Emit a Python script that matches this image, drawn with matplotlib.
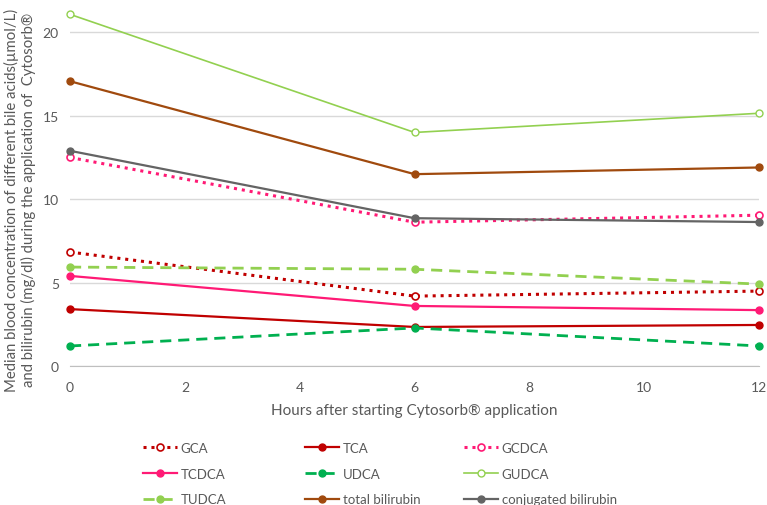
import matplotlib
matplotlib.use("Agg")
import matplotlib.pyplot as plt

hours = [0, 6, 12]
GCA = [6.83, 4.19, 4.49]
TCA = [3.41, 2.34, 2.46]
GCDCA = [12.5, 8.62, 9.04]
TCDCA = [5.4, 3.6, 3.35]
UDCA = [1.2, 2.28, 1.2]
GUDCA = [21.08, 14.0, 15.15]
TUDCA = [5.93, 5.8, 4.91]
total_bilirubin = [17.07, 11.5, 11.9]
conjugated_bilirubin = [12.9, 8.86, 8.63]

plt.rcParams['font.family'] = ['Lato', 'DejaVu Sans']

fig = plt.figure(figsize=(7.67, 5.06), dpi=100)
ax = fig.add_axes([0.0913, 0.2747, 0.8983, 0.7253])

red = '#C00000'
pink = '#FF1A75'
green = '#00B050'
lgreen = '#92D050'
brown = '#A04A0E'
gray = '#646464'

series = {}
series['GCA'] = ax.plot(hours, GCA, color=red, ls=(0, (1, 1.6)), lw=2.2, marker='o', ms=5,
                        mfc='white', mec=red, mew=1.2, label='GCA')[0]
series['TCA'] = ax.plot(hours, TCA, color=red, ls='-', lw=1.6, marker='o', ms=5, label='TCA')[0]
series['GCDCA'] = ax.plot(hours, GCDCA, color=pink, ls=(0, (1, 1.6)), lw=2.2, marker='o', ms=5,
                          mfc='white', mec=pink, mew=1.2, label='GCDCA')[0]
series['TCDCA'] = ax.plot(hours, TCDCA, color=pink, ls='-', lw=1.6, marker='o', ms=5, label='TCDCA')[0]
series['UDCA'] = ax.plot(hours, UDCA, color=green, ls=(0, (4, 2.5)), lw=2.0, marker='o', ms=5, label='UDCA')[0]
series['GUDCA'] = ax.plot(hours, GUDCA, color=lgreen, ls='-', lw=1.2, marker='o', ms=5,
                          mfc='white', mec=lgreen, mew=1.0, label='GUDCA')[0]
series['TUDCA'] = ax.plot(hours, TUDCA, color=lgreen, ls=(0, (4, 2.5)), lw=2.0, marker='o', ms=5, label='TUDCA')[0]
series['total'] = ax.plot(hours, total_bilirubin, color=brown, ls='-', lw=1.6, marker='o', ms=5,
                          label='total bilirubin')[0]
series['conj'] = ax.plot(hours, conjugated_bilirubin, color=gray, ls='-', lw=1.6, marker='o', ms=5,
                         label='conjugated bilirubin')[0]

for l in series.values():
    l.set_clip_on(False)

ax.set_xlim(0, 12)
ax.set_ylim(0, 22)
ax.set_xticks([0, 2, 4, 6, 8, 10, 12])
ax.set_yticks([0, 5, 10, 15, 20])
ax.grid(axis='y', color='#D9D9D9', lw=1)
ax.set_axisbelow(True)
for s in ['left', 'right', 'top']:
    ax.spines[s].set_visible(False)
ax.spines['bottom'].set_color('#BFBFBF')
ax.tick_params(axis='both', length=0, labelsize=10, colors='#595959')
ax.tick_params(axis='x', pad=11)
ax.tick_params(axis='y', pad=8)

ax.set_xlabel('Hours after starting Cytosorb® application', fontsize=11, color='#595959', labelpad=7)
ax.set_ylabel('Median blood concentration of different bile acids(µmol/L)\n'
              'and bilirubin (mg/dl) during the application of  Cytosorb®',
              fontsize=10.7, color='#595959', linespacing=1.1)
ax.yaxis.set_label_coords(-0.05, 0.455)

columns = [['GCA', 'TCDCA', 'TUDCA'], ['TCA', 'UDCA', 'total'], ['GCDCA', 'GUDCA', 'conj']]
col_x = [143, 305, 464]
for keys, xpx in zip(columns, col_x):
    hs = [series[k] for k in keys]
    leg = fig.legend(hs, [h.get_label() for h in hs], loc='upper left',
                     bbox_to_anchor=(xpx / 767, 0.125), frameon=False, fontsize=9.5,
                     handlelength=2.6, labelspacing=1.05, handletextpad=0.25,
                     borderpad=0, borderaxespad=0)
    for t in leg.get_texts():
        t.set_color('#595959')

fig.savefig('out.png', dpi=100)
